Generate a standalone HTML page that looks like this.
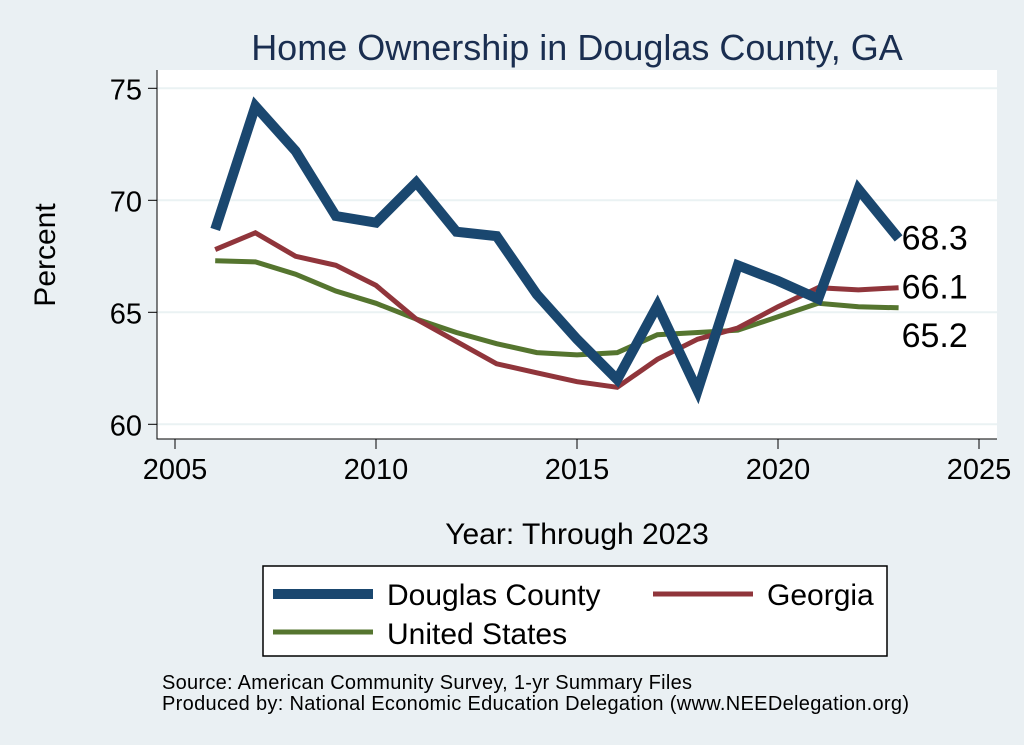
<!DOCTYPE html>
<html><head><meta charset="utf-8"><style>
body{margin:0;background:#eaf0f3;}
svg{display:block;font-family:"Liberation Sans",Arial,sans-serif;}
</style></head><body>
<svg width="1024" height="745" viewBox="0 0 1024 745">
<rect x="0" y="0" width="1024" height="745" fill="#eaf0f3"/>
<text x="577" y="60" text-anchor="middle" font-size="36" fill="#1a2e50">Home Ownership in Douglas County, GA</text>
<rect x="157" y="70" width="840" height="369" fill="#fff"/>
<g id="grid"></g>
<g id="axes"></g>
<g id="series"></g>
<text transform="translate(55,255) rotate(-90)" text-anchor="middle" font-size="30" fill="#000">Percent</text>
<text x="577" y="544" text-anchor="middle" font-size="30" fill="#000">Year: Through 2023</text>
<g>
<rect x="263" y="566" width="624" height="90" fill="#fff" stroke="#000" stroke-width="1.5"/>
<line x1="273" y1="594" x2="373" y2="594" stroke="#1a476f" stroke-width="10"/>
<text x="387" y="605" font-size="30">Douglas County</text>
<line x1="653" y1="594" x2="753" y2="594" stroke="#90353b" stroke-width="5"/>
<text x="767" y="605" font-size="30">Georgia</text>
<line x1="273" y1="632" x2="373" y2="632" stroke="#55752f" stroke-width="5"/>
<text x="387" y="644" font-size="30">United States</text>
</g>
<text x="162" y="689" font-size="20" textLength="530">Source: American Community Survey, 1-yr Summary Files</text>
<text x="162" y="710" font-size="20" textLength="747">Produced by: National Economic Education Delegation (www.NEEDelegation.org)</text>
</svg>
<script>
const years=[2006,2007,2008,2009,2010,2011,2012,2013,2014,2015,2016,2017,2018,2019,2020,2021,2022,2023];
const douglas=[68.7,74.2,72.2,69.3,69.0,70.8,68.6,68.4,65.8,63.8,62.0,65.3,61.5,67.1,66.4,65.6,70.5,68.3];
const georgia=[67.8,68.55,67.5,67.1,66.2,64.7,63.7,62.7,62.3,61.9,61.65,62.9,63.8,64.3,65.25,66.1,66.0,66.1];
const us=[67.3,67.25,66.7,65.95,65.4,64.7,64.1,63.6,63.2,63.1,63.2,64.0,64.1,64.2,64.8,65.4,65.25,65.2];
const yTicks=[60,65,70,75];
const xTicks=[2005,2010,2015,2020,2025];
const NS="http://www.w3.org/2000/svg";
const X=v=>175+(v-2005)*(979-175)/20;
const Y=v=>88.3+(75-v)*22.4;
function mk(tag,attrs,parent){const e=document.createElementNS(NS,tag);for(const k in attrs)e.setAttribute(k,attrs[k]);document.getElementById(parent).appendChild(e);return e;}
yTicks.forEach(t=>{
 let g=mk('line',{x1:157,x2:997,y1:Y(t),y2:Y(t),stroke:'#eaf2f3','stroke-width':2},'grid');
 
 
 let tk=mk('line',{x1:148,x2:157,y1:Y(t),y2:Y(t),stroke:'#000','stroke-width':1},'axes');
 
 
 let tx=mk('text',{x:142,y:Y(t)+11,'text-anchor':'end','font-size':29},'axes');
 tx.textContent=t;
 
 
});
xTicks.forEach(t=>{
 let tk=mk('line',{x1:X(t),x2:X(t),y1:439,y2:449,stroke:'#000','stroke-width':1},'axes');
 
 
 let tx=mk('text',{x:X(t),y:479,'text-anchor':'middle','font-size':29},'axes');
 tx.textContent=t;
 
 
});
let ax=mk('path',{d:'M157,70 V439 H997',fill:'none',stroke:'#000','stroke-width':1},'axes');


function line(vals,color,w,name){
 const d=vals.map((v,i)=>(i?'L':'M')+X(years[i]).toFixed(1)+','+Y(v).toFixed(1)).join(' ');
 let p=mk('path',{d:d,fill:'none',stroke:color,'stroke-width':w,'stroke-linejoin':'miter'},'series');
 
 
}
line(us,'#55752f',5,'us-line');
line(georgia,'#90353b',5,'georgia-line');
line(douglas,'#1a476f',10,'douglas-line');
const n=years.length-1;
[[douglas,'douglas-end-label',0],[georgia,'georgia-end-label',0],[us,'us-end-label',28]].forEach(([arr,nm,off])=>{
 let tx=mk('text',{x:X(years[n])+3,y:Y(arr[n])+11+off,'font-size':34},'series');
 tx.textContent=arr[n].toFixed(1);
 
 
});
</script>
</body></html>
